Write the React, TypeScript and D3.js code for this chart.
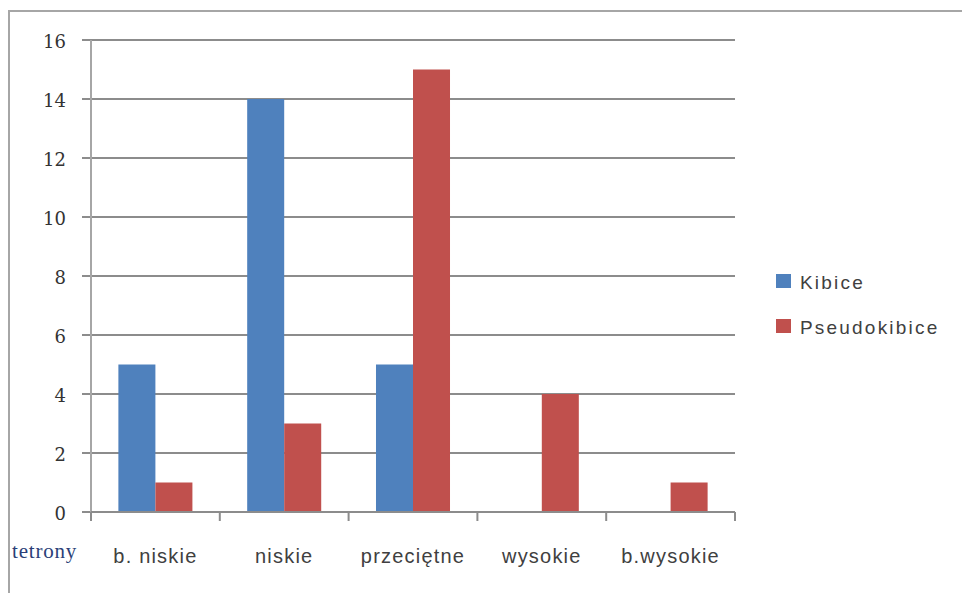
import { useRef, useEffect } from 'react';
import * as d3 from 'd3';

const categories = ['b. niskie', 'niskie', 'przeciętne', 'wysokie', 'b.wysokie'];
const seriesNames = ['Kibice', 'Pseudokibice'];
const kibice = [5, 14, 5, 0, 0];
const pseudokibice = [1, 3, 15, 4, 1];
const yTicks = [0, 2, 4, 6, 8, 10, 12, 14, 16];
const axisTitle = 'tetrony';
const colors = ['#4f81bd', '#c0504d'];

export default function App() {
  const svgRef = useRef<SVGSVGElement>(null);

  useEffect(() => {
    if (!svgRef.current) return;
    const svg = d3.select(svgRef.current);
    svg.selectAll('*').remove();

    const W = 962, H = 593;
    const plot = { left: 91, right: 735, top: 40, bottom: 512 };
    const textFont = 'Liberation Sans, Arial, sans-serif';

    // outer chart frame (runs off the right and bottom of the picture)
    svg.append('rect')
      .attr('x', 9).attr('y', 11).attr('width', W + 20).attr('height', H + 20)
      .attr('fill', 'white').attr('stroke', '#a6a6a6').attr('stroke-width', 2);

    const x = d3.scaleBand().domain(categories).range([plot.left, plot.right]).paddingInner(0).paddingOuter(0);
    const x1 = d3.scaleBand().domain(seriesNames).range([0, x.bandwidth()]).paddingOuter(0.74).paddingInner(0);
    const y = d3.scaleLinear().domain([0, 16]).range([plot.bottom, plot.top]);

    // gridlines with left tick stubs
    svg.append('g').selectAll('line').data(yTicks).join('line')
      .attr('x1', plot.left - 9).attr('x2', plot.right)
      .attr('y1', (d) => y(d)).attr('y2', (d) => y(d))
      .attr('stroke', '#8c8c8c').attr('stroke-width', 2);

    // y axis line
    svg.append('line')
      .attr('x1', plot.left).attr('x2', plot.left)
      .attr('y1', plot.top).attr('y2', plot.bottom)
      .attr('stroke', '#a6a6a6').attr('stroke-width', 2);

    svg.append('g').selectAll('text').data(yTicks).join('text')
      .attr('x', plot.left - 25).attr('y', (d) => y(d) + 1)
      .attr('text-anchor', 'end').attr('dominant-baseline', 'central')
      .attr('font-family', 'DejaVu Serif, serif').attr('font-size', 18)
      .attr('fill', '#333').text((d) => String(d));

    const series = [kibice, pseudokibice];
    series.forEach((vals, si) => {
      svg.append('g').selectAll('rect').data(vals).join('rect')
        .attr('x', (_, i) => (x(categories[i]) ?? 0) + (x1(seriesNames[si]) ?? 0))
        .attr('y', (d) => y(d))
        .attr('width', x1.bandwidth())
        .attr('height', (d) => plot.bottom - y(d))
        .attr('fill', colors[si]);
    });

    // x axis
    svg.append('line')
      .attr('x1', plot.left).attr('x2', plot.right)
      .attr('y1', plot.bottom).attr('y2', plot.bottom)
      .attr('stroke', '#8c8c8c').attr('stroke-width', 2);
    const bounds = categories.map((c) => x(c) ?? 0).concat([plot.right]);
    svg.append('g').selectAll('line').data(bounds).join('line')
      .attr('x1', (d) => d).attr('x2', (d) => d)
      .attr('y1', plot.bottom).attr('y2', plot.bottom + 9)
      .attr('stroke', '#8c8c8c').attr('stroke-width', 2);

    svg.append('g').selectAll('text').data(categories).join('text')
      .attr('x', (d) => (x(d) ?? 0) + x.bandwidth() / 2)
      .attr('y', 563)
      .attr('text-anchor', 'middle')
      .attr('font-family', textFont).attr('font-size', 20).attr('letter-spacing', 1.2)
      .attr('fill', '#404040').text((d) => d);

    svg.append('text')
      .attr('x', 12).attr('y', 558)
      .attr('font-family', 'Liberation Serif, serif').attr('font-size', 21).attr('letter-spacing', 0.8)
      .attr('fill', '#2b3f78').text(axisTitle);

    // legend
    const lg = svg.append('g');
    seriesNames.forEach((name, i) => {
      const ly = 281 + i * 45;
      lg.append('rect').attr('x', 776).attr('y', ly - 7).attr('width', 15).attr('height', 14).attr('fill', colors[i]);
      lg.append('text').attr('x', 800).attr('y', ly + 1)
        .attr('dominant-baseline', 'central')
        .attr('font-family', textFont).attr('font-size', 19).attr('letter-spacing', 2.2)
        .attr('fill', '#404040').text(name);
    });
  }, []);

  return <svg ref={svgRef} width={962} height={593} style={{ display: 'block', position: 'absolute', left: 0, top: 0 }} />;
}
